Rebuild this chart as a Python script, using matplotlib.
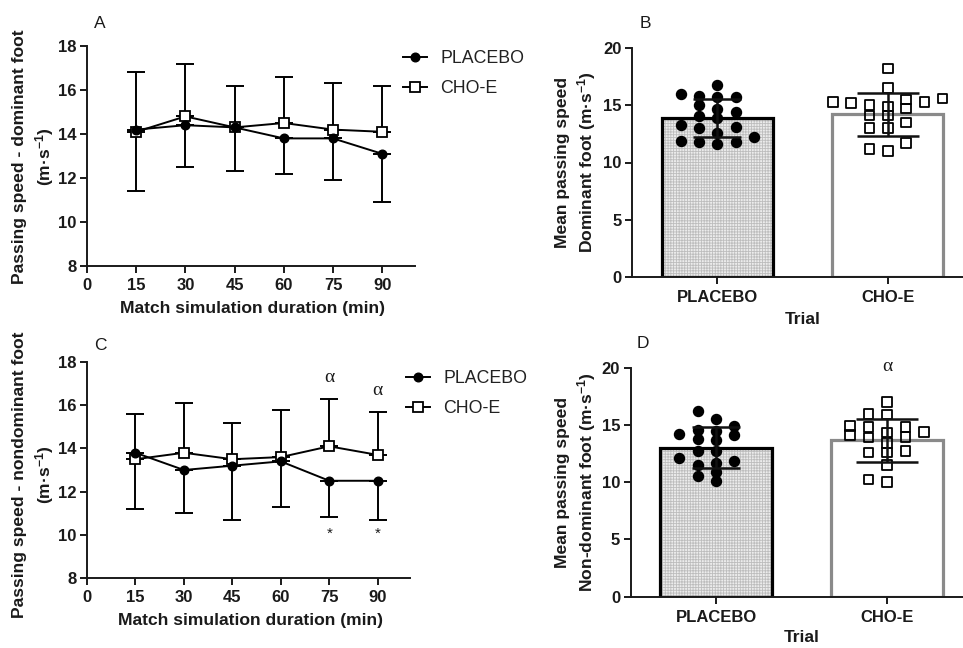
import numpy as np
import matplotlib
matplotlib.use('Agg')
import matplotlib.pyplot as plt

plt.rcParams['font.family'] = ['Liberation Sans', 'DejaVu Sans']
plt.rcParams['mathtext.fontset'] = 'custom'
plt.rcParams['mathtext.rm'] = 'Liberation Sans:bold'
plt.rcParams['mathtext.it'] = 'Liberation Sans:bold'
plt.rcParams['mathtext.bf'] = 'Liberation Sans:bold'
plt.rcParams['mathtext.default'] = 'rm'
plt.rcParams['hatch.linewidth'] = 0.6

# ---------------- data ----------------
time_min = [15, 30, 45, 60, 75, 90]
time_ticks = [0, 15, 30, 45, 60, 75, 90]

# Panel A: dominant foot over time (mean, SD)
dom_placebo_mean = [14.2, 14.4, 14.3, 13.8, 13.8, 13.1]
dom_placebo_sd = [2.8, 1.9, 2.0, 1.6, 1.9, 2.2]
dom_cho_mean = [14.1, 14.8, 14.3, 14.5, 14.2, 14.1]
dom_cho_sd = [2.7, 2.4, 1.9, 2.1, 2.1, 2.1]

# Panel C: non-dominant foot over time (mean, SD)
nondom_placebo_mean = [13.8, 13.0, 13.2, 13.4, 12.5, 12.5]
nondom_placebo_sd = [2.6, 2.0, 2.5, 2.1, 1.7, 1.8]
nondom_cho_mean = [13.5, 13.8, 13.5, 13.6, 14.1, 13.7]
nondom_cho_sd = [2.1, 2.3, 1.7, 2.2, 2.2, 2.0]
alpha_marks_c = {75: 17.3, 90: 16.7}
star_marks_c = {75: 10.05, 90: 10.05}

# Panel B: mean dominant-foot passing speed, individual players
trials = ['PLACEBO', 'CHO-E']
dom_bar_mean = [13.9, 14.2]
dom_bar_sd = [1.65, 1.9]
dom_ind_placebo = [15.7, 16.8, 16.0, 15.8, 15.0, 15.7, 14.1, 14.7, 14.4, 13.9,
                   13.0, 13.1, 13.3, 12.2, 12.6, 11.8, 11.8, 11.9, 11.6]
dom_ind_cho = [18.2, 16.5, 15.2, 15.3, 15.5, 14.7, 13.5, 14.9, 14.1, 13.0,
               11.7, 15.0, 14.1, 13.0, 11.2, 11.0, 15.3, 15.6]

# Panel D: mean non-dominant-foot passing speed, individual players
nondom_bar_mean = [13.0, 13.65]
nondom_bar_sd = [1.8, 1.9]
nondom_ind_placebo = [16.2, 14.2, 12.7, 11.7, 10.9, 14.6, 13.7, 12.7, 11.5, 10.5,
                      15.5, 13.8, 12.1, 10.1, 14.5, 11.85, 14.9, 14.1]
nondom_ind_cho = [17.0, 15.9, 15.95, 14.9, 14.1, 14.8, 13.9, 14.35, 13.45, 14.4,
                  14.8, 13.95, 12.6, 12.75, 12.6, 11.5, 10.0, 10.25]

# ---------------- layout helpers ----------------
W, H = 963, 648
fig = plt.figure(figsize=(W / 100, H / 100), dpi=100)


def ax_px(left, top, right, bottom):
    return fig.add_axes([left / W, 1 - bottom / H, (right - left) / W, (bottom - top) / H])


def fx(x):
    return x / W


def fy(y):
    return 1 - y / H


TICK_FS = 12
LAB_FS = 12.6
LEG_FS = 12.8
LET_FS = 12.5
DARK = '#1a1a1a'


def style_axes(ax):
    for s in ['top', 'right']:
        ax.spines[s].set_visible(False)
    for s in ['left', 'bottom']:
        ax.spines[s].set_linewidth(1.4)
        ax.spines[s].set_color(DARK)
    ax.tick_params(direction='out', length=5, width=1.4, color=DARK,
                   labelsize=TICK_FS, labelcolor=DARK)
    ax.tick_params(axis='y', pad=2.5)
    for lab in ax.get_xticklabels() + ax.get_yticklabels():
        lab.set_fontweight('bold')


def line_panel(ax, pm, psd, cm, csd):
    # CHO-E: upward SD bars, PLACEBO: downward SD bars
    ax.errorbar(time_min, cm, yerr=[np.zeros(len(csd)), csd], fmt='none',
                ecolor='black', elinewidth=1.4, capsize=6.5, capthick=1.4, zorder=2)
    ax.errorbar(time_min, pm, yerr=[psd, np.zeros(len(psd))], fmt='none',
                ecolor='black', elinewidth=1.4, capsize=6.5, capthick=1.4, zorder=2)
    ax.plot(time_min, pm, '-o', color='black', lw=1.4, ms=6.2,
            mfc='black', mec='black', zorder=4, label='PLACEBO')
    ax.plot(time_min, cm, '-s', color='black', lw=1.4, ms=7.0,
            mfc='white', mec='black', mew=1.3, zorder=3, label='CHO-E')
    ax.set_xlim(0, 100)
    ax.set_ylim(8, 18)
    ax.set_xticks(time_ticks)
    ax.set_yticks([8, 10, 12, 14, 16, 18])
    style_axes(ax)
    ax.tick_params(axis='x', pad=3.5)


def swarm_cols(values, px_per_unit, min_sep_px):
    vals = np.asarray(values, dtype=float)
    order = np.argsort(vals)
    cols = np.zeros(len(vals), dtype=int)
    placed = []
    candidates = [0, -1, 1, -2, 2, -3, 3, -4, 4]
    for i in order:
        for c in candidates:
            ok = all(abs(vals[i] - v) * px_per_unit >= min_sep_px
                     for v, cc in placed if cc == c)
            if ok:
                cols[i] = c
                placed.append((vals[i], c))
                break
    return cols


def bar_panel(ax, means, sds, ind_p, ind_c):
    x = np.arange(len(trials))
    # placebo: dotted grey texture
    ax.bar(x[0], means[0], width=0.65, color='#ececec', hatch='++++++',
           edgecolor='#bdbdbd', linewidth=0, zorder=1)
    ax.bar(x[0], means[0], width=0.65, color='none', edgecolor='black',
           linewidth=2.3, zorder=1.5)
    ax.bar(x[1], means[1], width=0.65, color='white', edgecolor='#8a8a8a',
           linewidth=2.3, zorder=1)
    step = 18.3 / 170.5
    cp = swarm_cols(ind_p, 11.45, 8.5)
    cc = swarm_cols(ind_c, 11.45, 8.5)
    ax.scatter(x[0] + cp * step, ind_p, s=52, marker='o', color='black', zorder=3)
    ax.scatter(x[1] + cc * step, ind_c, s=48, marker='s', facecolor='none',
               edgecolor='black', linewidth=1.3, zorder=3)
    ax.errorbar(x[0], means[0], yerr=sds[0], fmt='none', ecolor='#111111',
                elinewidth=1.8, capsize=17, capthick=1.8, zorder=4)
    ax.errorbar(x[1], means[1], yerr=sds[1], fmt='none', ecolor='#111111',
                elinewidth=1.8, capsize=22, capthick=1.8, zorder=4)
    ax.set_xlim(-0.5, 1.5)
    ax.set_ylim(0, 20)
    ax.set_yticks([0, 5, 10, 15, 20])
    ax.set_xticks(x)
    ax.set_xticklabels(trials)
    style_axes(ax)
    ax.tick_params(axis='x', pad=4.5)


def legend_at(ax, x_px, y_px):
    ax.legend(loc='upper left', bbox_to_anchor=(fx(x_px), fy(y_px)),
              bbox_transform=fig.transFigure, frameon=False, fontsize=LEG_FS,
              handlelength=1.35, handletextpad=0.75, labelspacing=0.75,
              borderpad=0, borderaxespad=0, labelcolor='#222222')


def ylab(x_px, y_px, s):
    fig.text(fx(x_px), fy(y_px), s, ha='center', va='center', rotation=90,
             fontsize=LAB_FS, fontweight='bold', color=DARK)


def xlab(x_px, y_px, s):
    fig.text(fx(x_px), fy(y_px), s, ha='center', va='center',
             fontsize=LAB_FS, fontweight='bold', color=DARK)


def letter(x_px, y_px, s):
    fig.text(fx(x_px), fy(y_px), s, ha='center', va='center', fontsize=LET_FS, color=DARK)


# ---------------- panel A ----------------
axA = ax_px(87, 46, 415, 266)
line_panel(axA, dom_placebo_mean, dom_placebo_sd, dom_cho_mean, dom_cho_sd)
legend_at(axA, 403, 50)
xlab(252, 309, 'Match simulation duration (min)')
ylab(20, 157, 'Passing speed - dominant foot')
ylab(45, 157, '(m·s$^{-1}$)')
letter(100, 23, 'A')

# ---------------- panel C ----------------
axC = ax_px(87, 362.3, 410, 577.7)
line_panel(axC, nondom_placebo_mean, nondom_placebo_sd, nondom_cho_mean, nondom_cho_sd)
for t, yv in alpha_marks_c.items():
    axC.text(t, yv, 'α', ha='center', va='center', fontsize=14,
             family=['Liberation Serif', 'DejaVu Serif'], color=DARK)
for t, yv in star_marks_c.items():
    axC.text(t, yv, '*', ha='center', va='center', fontsize=11, color=DARK)
legend_at(axC, 406, 370)
xlab(250, 620, 'Match simulation duration (min)')
ylab(20, 475, 'Passing speed - nondominant foot')
ylab(45, 475, '(m·s$^{-1}$)')
letter(100, 345, 'C')

# ---------------- panel B ----------------
axB = ax_px(632, 48, 973, 277)
bar_panel(axB, dom_bar_mean, dom_bar_sd, dom_ind_placebo, dom_ind_cho)
xlab(803, 319, 'Trial')
ylab(562, 162, 'Mean passing speed')
ylab(587, 162, 'Dominant foot (m·s$^{-1}$)')
letter(645, 23, 'B')

# ---------------- panel D ----------------
axD = ax_px(630.5, 367.7, 972.5, 596.7)
bar_panel(axD, nondom_bar_mean, nondom_bar_sd, nondom_ind_placebo, nondom_ind_cho)
axD.text(1, 20.1, 'α', ha='center', va='center', fontsize=14, clip_on=False,
         family=['Liberation Serif', 'DejaVu Serif'], color=DARK)
xlab(802, 638, 'Trial')
ylab(562, 482, 'Mean passing speed')
ylab(587, 482, 'Non-dominant foot (m·s$^{-1}$)')
letter(643, 343, 'D')

fig.savefig('out.png', dpi=100)
